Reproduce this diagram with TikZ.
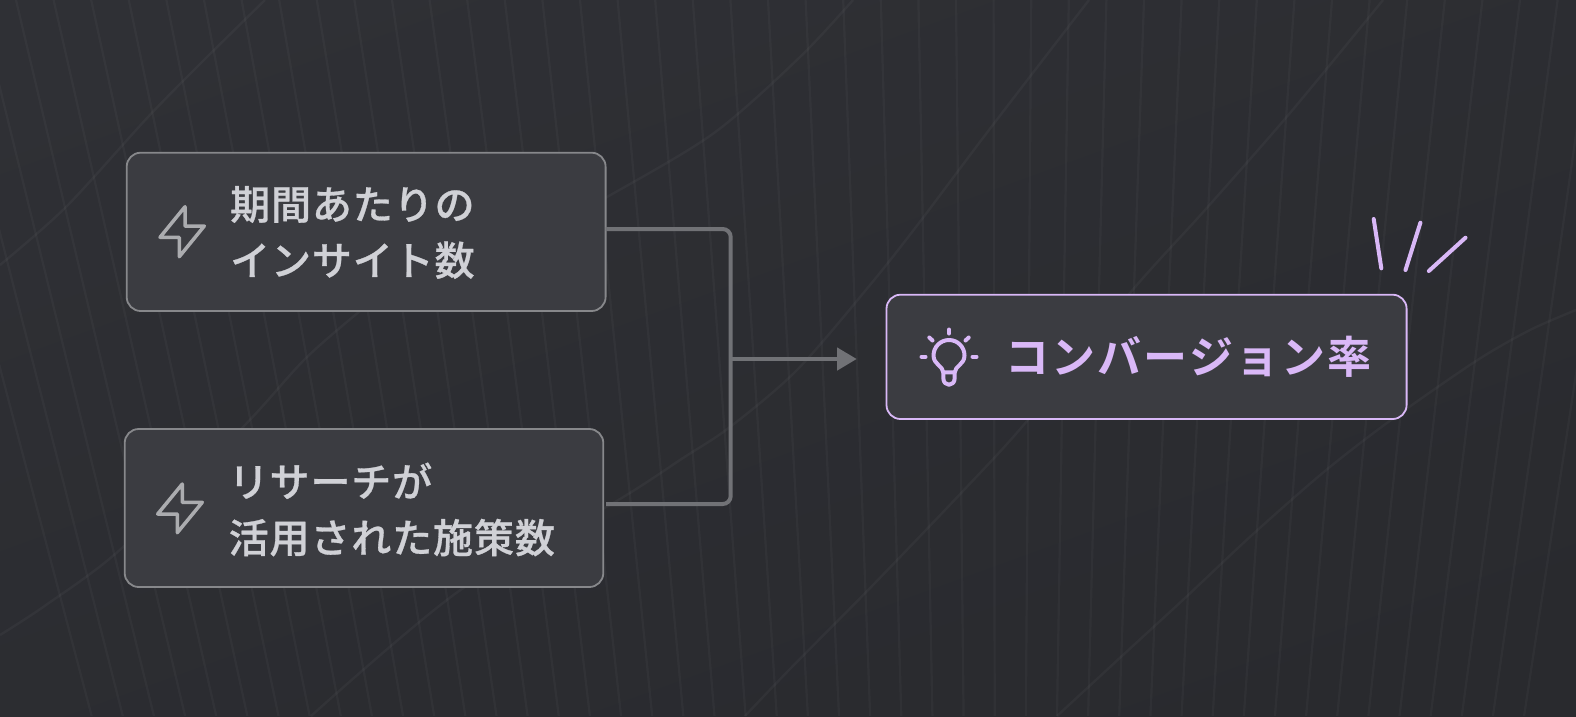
\documentclass[tikz,border=0pt]{standalone}
\usepackage{fontspec}
\usetikzlibrary{arrows.meta,calc}
\newfontfamily\jpmed[LetterSpace=2.2,FakeBold=0.7]{Noto Sans CJK JP Medium}
\newfontfamily\jpbold[LetterSpace=5]{Noto Sans CJK JP Bold}
\definecolor{bgA}{HTML}{2F3035}
\definecolor{bgB}{HTML}{292A2E}
\definecolor{boxfill}{HTML}{3B3C41}
\definecolor{boxline}{HTML}{87888B}
\definecolor{txt}{HTML}{D0D1D6}
\definecolor{conn}{HTML}{717276}
\definecolor{lilac}{HTML}{D9B8F7}
\definecolor{bolt}{HTML}{ABACAF}
\tikzset{
  x=1pt,y=-1pt,
  card/.style={draw=boxline,fill=boxfill,line width=1.8pt,rounded corners=14pt,inner sep=0pt,outer sep=0pt},
  goalcard/.style={card,draw=lilac},
  labeltext/.style={text=txt,anchor=west,align=left,inner sep=0pt,font=\jpmed\fontsize{40}{56}\selectfont},
  goaltext/.style={text=lilac,anchor=west,inner sep=0pt,font=\jpbold\fontsize{44}{50}\selectfont},
  wire/.style={draw=conn,line width=4pt},
  fan/.style={draw=white,opacity=.03,line width=2.2pt},
  sweep/.style={draw=white,opacity=.035,line width=2.4pt},
  boltline/.style={draw=bolt,line width=3.5pt,line join=round},
  lilacline/.style={draw=lilac,line width=4pt,line cap=round,line join=round},
}
\begin{document}
\begin{tikzpicture}
\useasboundingbox (0,0) rectangle (1576,716);
\shade[top color=bgA,bottom color=bgB,shading angle=20] (-60,-60) rectangle (1636,776);
\begin{scope}
\clip (0,0) rectangle (1576,716);
% perspective line field converging far below the picture
\foreach \k in {-24,...,22}{
  \pgfmathsetmacro{\xa}{805.6+37.6*\k}
  \pgfmathsetmacro{\xb}{\xa+716*0.24*(1-\xa/1000)}
  \draw[fan] (\xa,0) -- (\xb,716);
}
\draw[sweep] plot[smooth] coordinates {(0,265) (66,207) (148,117) (204,60) (265,0)};
\draw[sweep] plot[smooth] coordinates {(0,635) (46,605) (122,548) (245,425) (306,358) (367,305) (420,260)};
\draw[sweep] plot[smooth] coordinates {(500,255) (607,197) (714,133) (800,57) (853,0)};
\draw[sweep] plot[smooth] coordinates {(311,716) (459,591) (615,502) (683,458) (730,427) (797,370) (870,285) (919,223) (989,130) (1089,0)};
\draw[sweep] plot[smooth] coordinates {(745,716) (788,671) (873,585) (963,491) (1027,421) (1130,293) (1205,210) (1290,113) (1383,0)};
\draw[sweep] plot[smooth] coordinates {(1057,716) (1123,655) (1185,598) (1252,535) (1325,471) (1391,420) (1476,361) (1530,330) (1576,310)};
\end{scope}

% cards
\node[card,minimum width=478.9pt,minimum height=158.3pt] (a) at (366.15,231.85) {};
\node[card,minimum width=478.6pt,minimum height=158pt] (b) at (364,508) {};
\node[goalcard,minimum width=520.1pt,minimum height=124.3pt] (g) at (1146.55,356.85) {};

% labels
\node[labeltext] (ta) at (230,232.5) {期間あたりの\\インサイト数};
\node[labeltext] (tb) at (228.5,509.5) {リサーチが\\活用された施策数};
\node[goaltext] (tg) at (1005,356.5) {コンバージョン率};

% connectors
\coordinate (aout) at (a.east |- 0,229);
\coordinate (bout) at (606,504);
\coordinate (ctop) at (730.7,229);
\coordinate (cbot) at (730.7,504);
\coordinate (cmid) at (730.7,359);
\coordinate (tip) at (856.7,359);
\draw[wire,rounded corners=8pt] (aout) -- (ctop) -- (cbot) -- (bout);
\draw[wire,-{Triangle[length=19.5pt,width=22pt]}] (cmid) -- (tip);

% bolt icons
\draw[boltline] (185,206.7) -- (160,237.3) -- (179.3,237.3) -- (179.3,256.7) -- (204.3,226) -- (185,226) -- cycle;
\draw[boltline] (182.3,484) -- (157.7,514) -- (177.3,514) -- (177.3,532.7) -- (202.3,502.3) -- (182.3,502.3) -- cycle;

% bulb icon
\draw[lilacline] (943.3,372.3) .. controls (943,366) and (933.5,364.5) .. (933.5,355.5)
  .. controls (933.5,346.94) and (940.44,340) .. (949,340)
  .. controls (957.56,340) and (964.5,346.94) .. (964.5,355.5)
  .. controls (964.5,364.5) and (955,366) .. (954.7,372.3) -- cycle;
\draw[lilacline] (943.3,372.3) -- (943.3,378) .. controls (943.3,387) and (954.7,387) .. (954.7,378) -- (954.7,372.3);
\draw[lilacline] (949,329.5) -- (949,333.5);
\draw[lilacline] (929.3,337.5) -- (932.5,340.5);
\draw[lilacline] (968.7,337.5) -- (965.5,340.5);
\draw[lilacline] (921.5,356.7) -- (925.5,356.7);
\draw[lilacline] (972.5,356.7) -- (976.5,356.7);

% sparks
\draw[lilacline] (1373.7,219) -- (1381.3,268.3);
\draw[lilacline] (1420.4,222.7) -- (1405.5,270);
\draw[lilacline] (1465.5,237.7) -- (1428.8,271);
\end{tikzpicture}
\end{document}
